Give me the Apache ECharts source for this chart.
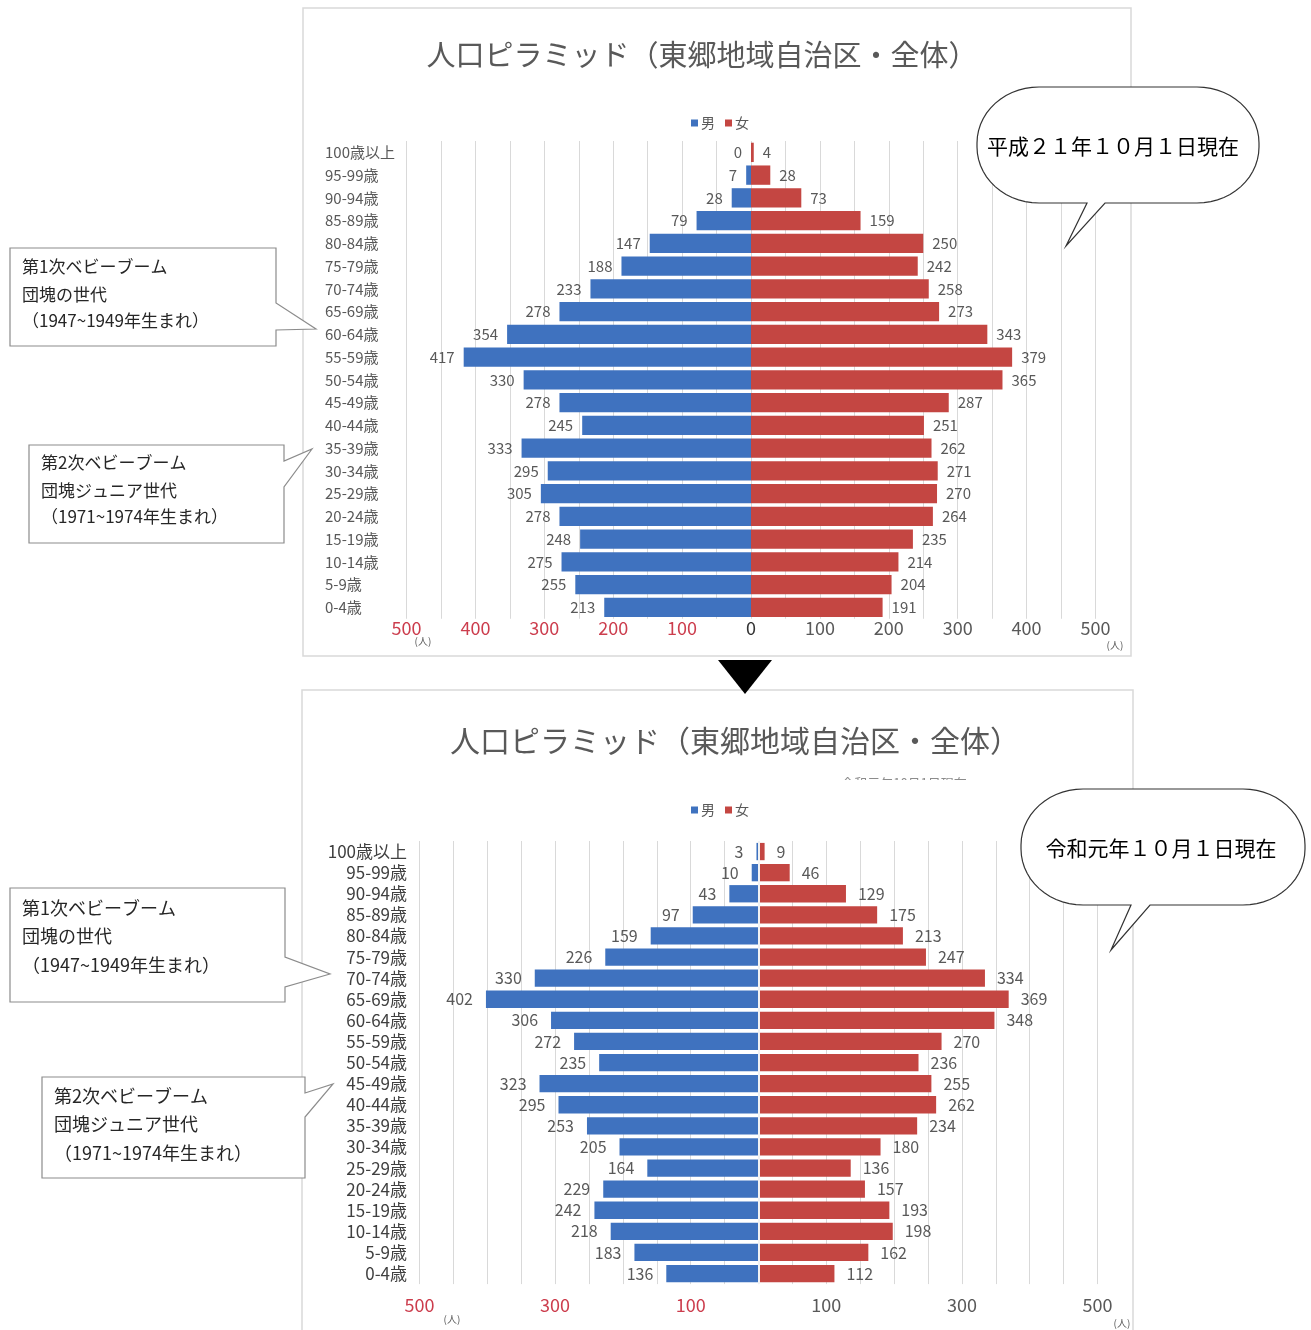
<!DOCTYPE html>
<html>
<head>
<meta charset="utf-8">
<script src="https://cdn.jsdelivr.net/npm/echarts/dist/echarts.min.js"></script>
<style>
html,body{margin:0;padding:0;background:#ffffff;}
#c{width:1311px;height:1330px;}
</style>
</head>
<body>
<div id="c"></div>
<script>
// ---------- data ----------
const categories = ['100歳以上','95-99歳','90-94歳','85-89歳','80-84歳','75-79歳','70-74歳','65-69歳','60-64歳','55-59歳','50-54歳','45-49歳','40-44歳','35-39歳','30-34歳','25-29歳','20-24歳','15-19歳','10-14歳','5-9歳','0-4歳'];
// 平成21年10月1日現在
const maleH21   = [0, 7, 28, 79, 147, 188, 233, 278, 354, 417, 330, 278, 245, 333, 295, 305, 278, 248, 275, 255, 213];
const femaleH21 = [4, 28, 73, 159, 250, 242, 258, 273, 343, 379, 365, 287, 251, 262, 271, 270, 264, 235, 214, 204, 191];
// 令和元年10月1日現在
const maleR1    = [3, 10, 43, 97, 159, 226, 330, 402, 306, 272, 235, 323, 295, 253, 205, 164, 229, 242, 218, 183, 136];
const femaleR1  = [9, 46, 129, 175, 213, 247, 334, 369, 348, 270, 236, 255, 262, 234, 180, 136, 157, 193, 198, 162, 112];
// tick labels shown on each x axis (negative side = 男)
const topTickValues    = [-500, -400, -300, -200, -100, 0, 100, 200, 300, 400, 500];
const bottomTickValues = [-500, -300, -100, 100, 300, 500];
const seriesNames = ['男', '女'];
const titleText = '人口ピラミッド（東郷地域自治区・全体）';
const dateTop = '平成２１年１０月１日現在';
const dateBottom = '令和元年１０月１日現在';
const boom1 = ['第1次ベビーブーム', '団塊の世代', '（1947~1949年生まれ）'];
const boom2 = ['第2次ベビーブーム', '団塊ジュニア世代', '（1971~1974年生まれ）'];

// ---------- styling ----------
const FONT = '"Noto Sans CJK JP", "Noto Sans", sans-serif';
const BLUE = '#3F72BF', RED = '#C44642', GRAY = '#595959', AXRED = '#CC3D4D';

function axisColor(v) {
  const n = Number(v);
  return n < 0 ? AXRED : (n === 0 ? '#333333' : GRAY);
}

function barSeries(name, values, axisIdx, isMale, dist, fs, extra) {
  return Object.assign({
    name: name,
    type: 'bar',
    xAxisIndex: axisIdx,
    yAxisIndex: axisIdx,
    data: isMale ? values.map(v => -v) : values.slice(),
    barGap: '-100%',
    barCategoryGap: axisIdx === 0 ? '15%' : '18%',
    itemStyle: { color: isMale ? BLUE : RED },
    label: {
      show: true,
      position: isMale ? 'left' : 'right',
      distance: dist,
      formatter: p => String(Math.abs(p.value)),
      color: GRAY,
      fontSize: fs,
      fontFamily: FONT
    },
    emphasis: { disabled: true }
  }, extra || {});
}

// ---------- decoration helpers ----------
function roundBubble(x, y, w, h, rx, ry, b1, b2, tx, ty) {
  const pts = [];
  const arc = (cx, cy, a0, a1) => {
    for (let i = 0; i <= 14; i++) {
      const a = (a0 + (a1 - a0) * i / 14) * Math.PI / 180;
      pts.push([cx + rx * Math.cos(a), cy + ry * Math.sin(a)]);
    }
  };
  arc(x + w - rx, y + ry, -90, 0);
  arc(x + w - rx, y + h - ry, 0, 90);
  pts.push([b2, y + h], [tx, ty], [b1, y + h]);
  arc(x + rx, y + h - ry, 90, 180);
  arc(x + rx, y + ry, 180, 270);
  return pts;
}
function rectCallout(x, y, w, h, t1, tx, ty, t2) {
  return [[x, y], [x + w, y], [x + w, t1], [tx, ty], [x + w, t2], [x + w, y + h], [x, y + h]];
}
function txt(s, x, y, size, color, align, z) {
  return {
    type: 'text', x: x, y: y, z: z || 101, silent: true,
    style: { text: s, fill: color, fontSize: size, fontFamily: FONT,
             textAlign: align || 'left', align: align || 'left',
             textVerticalAlign: 'middle', verticalAlign: 'middle' }
  };
}
function poly(points, z, stroke) {
  return { type: 'polygon', z: z, silent: true, shape: { points: points },
           style: { fill: '#ffffff', stroke: stroke, lineWidth: 1.2 } };
}

const graphics = [];
// panel borders
graphics.push({ type: 'rect', z: 0, silent: true, shape: { x: 303, y: 8, width: 828, height: 648 },
                style: { fill: 'none', stroke: '#D9D9D9', lineWidth: 1.5 } });
graphics.push({ type: 'rect', z: 0, silent: true, shape: { x: 302, y: 690, width: 831, height: 660 },
                style: { fill: 'none', stroke: '#D9D9D9', lineWidth: 1.5 } });
// titles
graphics.push(txt(titleText, 702, 55, 29, GRAY, 'center', 5));
graphics.push(txt(titleText, 735, 741, 30, GRAY, 'center', 5));
// faint clipped subtitle in lower chart
graphics.push(txt('令和元年10月1日現在', 904, 783, 13, '#8C8C8C', 'center', 5));
graphics.push({ type: 'rect', z: 6, silent: true, shape: { x: 800, y: 780, width: 220, height: 14 },
                style: { fill: '#ffffff', stroke: 'none' } });
// (人) unit labels
graphics.push(txt('(人)', 423, 641, 10, GRAY, 'center', 5));
graphics.push(txt('(人)', 1115, 645, 10, GRAY, 'center', 5));
graphics.push(txt('(人)', 452, 1319, 10, GRAY, 'center', 5));
graphics.push(txt('(人)', 1122, 1323, 10, GRAY, 'center', 5));
// down triangle
graphics.push({ type: 'polygon', z: 10, silent: true, shape: { points: [[718, 660], [772, 660], [745, 694]] },
                style: { fill: '#000000', stroke: 'none' } });
// date bubbles
graphics.push(poly(roundBubble(977, 87, 282, 116, 62, 56, 1087, 1105, 1066, 246), 100, '#333333'));
graphics.push(txt(dateTop, 1113, 146, 21, '#000000', 'center'));
graphics.push(poly(roundBubble(1021, 789, 284, 116, 62, 56, 1131, 1150, 1111, 950), 100, '#333333'));
graphics.push(txt(dateBottom, 1161, 848, 21, '#000000', 'center'));
// left callouts (top chart)
graphics.push(poly(rectCallout(10, 248, 266, 98, 303, 316, 329, 330), 100, '#8C8C8C'));
boom1.forEach((s, i) => graphics.push(txt(s, 22, [267, 295, 321][i], 17, '#262626')));
graphics.push(poly(rectCallout(29, 445, 255, 98, 461, 312, 449, 487), 100, '#8C8C8C'));
boom2.forEach((s, i) => graphics.push(txt(s, 41, [463, 491, 517][i], 17, '#262626')));
// left callouts (bottom chart)
graphics.push(poly(rectCallout(10, 888, 275, 114, 957, 330, 974, 987), 100, '#8C8C8C'));
boom1.forEach((s, i) => graphics.push(txt(s, 22, [908, 936, 965][i], 18, '#262626')));
graphics.push(poly(rectCallout(42, 1077, 263, 101, 1093, 333, 1084, 1117), 100, '#8C8C8C'));
boom2.forEach((s, i) => graphics.push(txt(s, 54, [1096, 1124, 1153][i], 18, '#262626')));

// ---------- chart ----------
const chart = echarts.init(document.getElementById('c'), null, { renderer: 'canvas', width: 1311, height: 1330 });

function xAxisCfg(gi, ticks, margin) {
  return {
    gridIndex: gi, type: 'value', min: -500, max: 500, interval: 50,
    axisLine: { show: false }, axisTick: { show: false },
    splitLine: { show: true, lineStyle: { color: '#D9D9D9', width: 1 } },
    axisLabel: {
      formatter: v => ticks.includes(v) ? String(Math.abs(v)) : '',
      color: axisColor, fontSize: 18, fontFamily: FONT, margin: margin,
      showMinLabel: true, showMaxLabel: true, hideOverlap: false
    }
  };
}
function yAxisCfg(gi, align, margin, fs, color) {
  return {
    gridIndex: gi, type: 'category', data: categories, inverse: true,
    axisLine: { show: false, onZero: false }, axisTick: { show: false },
    splitLine: { show: false },
    axisLabel: { interval: 0, align: align, margin: margin, fontSize: fs, color: color, fontFamily: FONT }
  };
}
function legendCfg(top) {
  return {
    data: seriesNames, left: 686, top: top, icon: 'rect', itemWidth: 7, itemHeight: 7, itemGap: 10,
    selectedMode: false, orient: 'horizontal',
    textStyle: { fontSize: 14, color: GRAY, fontFamily: FONT, padding: [0, 0, 0, -2] }
  };
}

const option = {
  animation: false,
  backgroundColor: '#ffffff',
  textStyle: { fontFamily: FONT },
  legend: [legendCfg(111), legendCfg(798)],
  grid: [
    { left: 406.5, right: 215.5, top: 141, height: 477.75, outerBoundsMode: 'none', containLabel: false },
    { left: 419.5, right: 213.5, top: 841, height: 443.1, outerBoundsMode: 'none', containLabel: false }
  ],
  xAxis: [xAxisCfg(0, topTickValues, 0), xAxisCfg(1, bottomTickValues, 12)],
  yAxis: [yAxisCfg(0, 'left', 81.5, 15, GRAY), yAxisCfg(1, 'right', 12.5, 17, '#404040')],
  series: [
    barSeries(seriesNames[0], maleH21, 0, true, 9, 15),
    barSeries(seriesNames[1], femaleH21, 0, false, 9, 15),
    barSeries(seriesNames[0], maleR1, 1, true, 13, 16),
    barSeries(seriesNames[1], femaleR1, 1, false, 12, 16, {
      markLine: { silent: true, symbol: ['none', 'none'], label: { show: false },
                  lineStyle: { color: '#F2F2F2', width: 2, type: 'solid' },
                  data: [{ xAxis: 0 }] }
    })
  ],
  graphic: { elements: graphics }
};
chart.setOption(option);
</script>
</body>
</html>
